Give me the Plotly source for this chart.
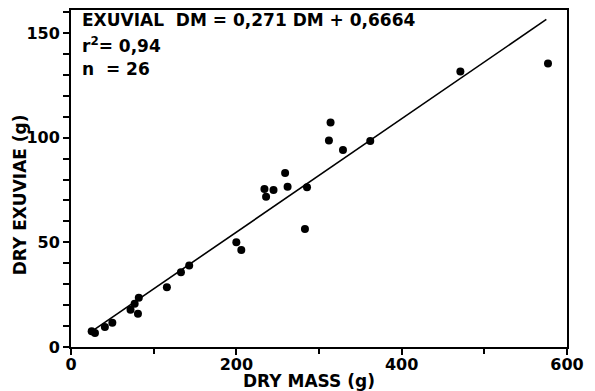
import plotly.graph_objects as go

# Data (dry mass g, dry exuviae g)
dry_mass = [25, 29, 41, 50, 72, 77, 81, 82, 116, 133, 143,
            200, 206, 234, 236, 245, 259, 262, 283, 285.5,
            312, 314, 329, 362, 471, 577]
dry_exuviae = [7.5, 6.7, 9.5, 11.6, 17.8, 20.7, 15.9, 23.5, 28.6, 35.7, 38.9,
               50.0, 46.3, 75.5, 71.8, 75.0, 83.1, 76.6, 56.4, 76.3,
               98.7, 107.2, 94.1, 98.4, 131.6, 135.4]

slope = 0.271
intercept = 0.6664
line_x = [29, 575]
line_y = [slope * v + intercept for v in line_x]

x_ticks = [0, 200, 400, 600]
y_ticks = [0, 50, 100, 150]

FONT = "DejaVu Sans"

fig = go.Figure()
fig.add_trace(go.Scatter(x=line_x, y=line_y, mode="lines",
                         line=dict(color="black", width=1.6),
                         showlegend=False, hoverinfo="skip"))
fig.add_trace(go.Scatter(x=dry_mass, y=dry_exuviae, mode="markers",
                         marker=dict(color="black", size=8),
                         showlegend=False))

ann_font = dict(family=FONT, size=17, color="black")
fig.add_annotation(x=0, y=1, xref="paper", yref="paper", xanchor="left", yanchor="top",
                   xshift=9, yshift=2, showarrow=False, align="left",
                   text="<b>EXUVIAL  DM = 0,271 DM + 0,6664</b>", font=ann_font)
fig.add_annotation(x=0, y=1, xref="paper", yref="paper", xanchor="left", yanchor="top",
                   xshift=9, yshift=-22, showarrow=False, align="left",
                   text="<b>r<sup>2</sup>= 0,94</b>", font=ann_font)
fig.add_annotation(x=0, y=1, xref="paper", yref="paper", xanchor="left", yanchor="top",
                   xshift=9, yshift=-47, showarrow=False, align="left",
                   text="<b>n  = 26</b>", font=ann_font)

# axis titles as annotations to match reference placement
title_font = dict(family=FONT, size=17, color="black")
fig.add_annotation(x=0.48, y=0, xref="paper", yref="paper", xanchor="center", yanchor="middle",
                   yshift=-34, showarrow=False, text="<b>DRY MASS (g)</b>", font=title_font)
fig.add_annotation(x=0, y=0.45, xref="paper", yref="paper", xanchor="center", yanchor="middle",
                   xshift=-51, showarrow=False, textangle=-90,
                   text="<b>DRY EXUVIAE (g)</b>", font=title_font)

axis_common = dict(showline=True, linecolor="black", linewidth=2, mirror=True,
                   showgrid=False, zeroline=False, ticks="outside", tickcolor="black",
                   tickwidth=1.5, ticklen=6, automargin=False,
                   tickfont=dict(family=FONT, size=16, color="black"))

fig.update_xaxes(range=[0, 600], tickvals=x_ticks, ticktext=[f"<b>{v}</b>" for v in x_ticks],
                 minor=dict(dtick=100, ticks="outside", ticklen=5, tickcolor="black", tickwidth=1.5),
                 ticklabelstandoff=-4,
                 **axis_common)
fig.update_yaxes(range=[0, 161], tickvals=y_ticks, ticktext=[f"<b>{v}</b>" for v in y_ticks],
                 minor=dict(dtick=10, ticks="outside", ticklen=6, tickcolor="black", tickwidth=1.5),
                 **axis_common)

# page body adds an 8px offset; size the figure so the plot area lands where the reference has it
fig.update_layout(width=587, height=383, paper_bgcolor="white", plot_bgcolor="white",
                  margin=dict(l=63, r=28, t=2, b=44))

fig.write_html("out.html")
